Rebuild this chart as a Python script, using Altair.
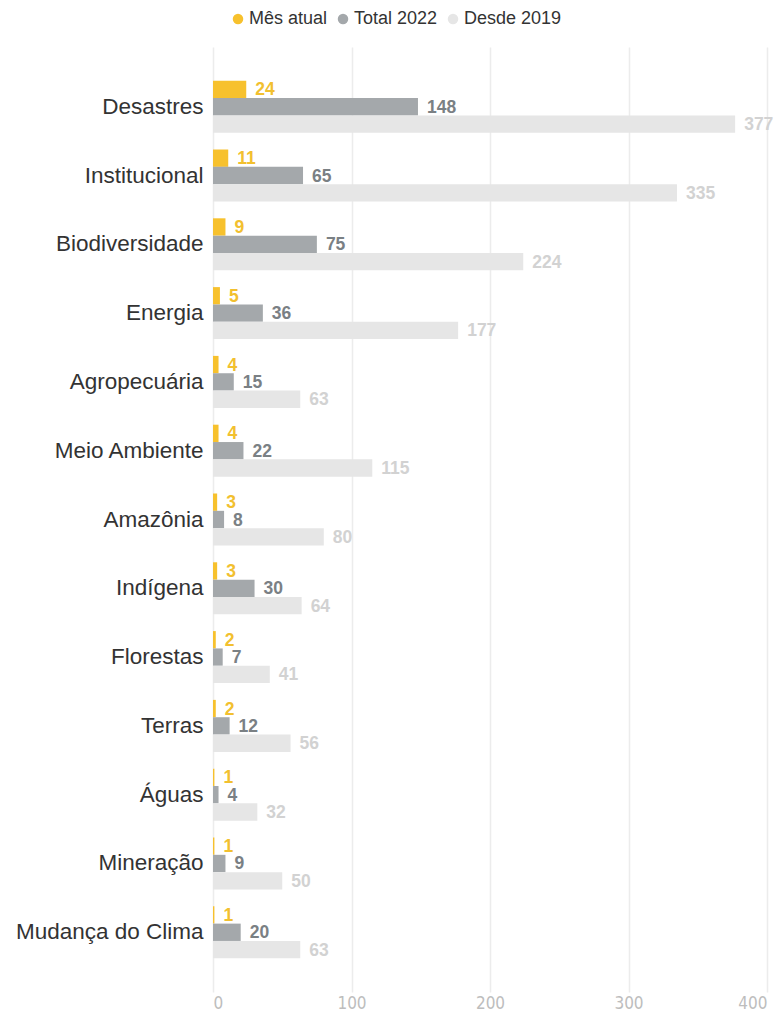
import altair as alt
import pandas as pd

categories = ["Desastres", "Institucional", "Biodiversidade", "Energia", "Agropecuária",
              "Meio Ambiente", "Amazônia", "Indígena", "Florestas", "Terras", "Águas",
              "Mineração", "Mudança do Clima"]
mes_atual = [24, 11, 9, 5, 4, 4, 3, 3, 2, 2, 1, 1, 1]
total_2022 = [148, 65, 75, 36, 15, 22, 8, 30, 7, 12, 4, 9, 20]
desde_2019 = [377, 335, 224, 177, 63, 115, 80, 64, 41, 56, 32, 50, 63]
series = ["Mês atual", "Total 2022", "Desde 2019"]
x_ticks = [0, 100, 200, 300, 400]

bar_colors = ["#F7C12D", "#A4A8AB", "#E6E6E6"]
text_colors = ["#F2C02F", "#7A8084", "#D2D2D2"]

rows = []
for i, c in enumerate(categories):
    for s, vals in zip(series, [mes_atual, total_2022, desde_2019]):
        rows.append({"categoria": c, "serie": s, "valor": vals[i]})
df = pd.DataFrame(rows)

font = "Liberation Sans"
narrow = "Liberation Sans Narrow, DejaVu Sans Condensed, Liberation Sans"

y_enc = alt.Y("categoria:N", sort=categories, title=None,
              scale=alt.Scale(paddingInner=0.244, paddingOuter=0.49),
              axis=alt.Axis(labelFontSize=22.5, labelColor="#333333", labelFont=font,
                            labelPadding=10, ticks=False, domain=False, labelLimit=400))
x_enc = alt.X("valor:Q", title=None,
              scale=alt.Scale(domain=[0, 400], nice=False),
              axis=alt.Axis(values=x_ticks, grid=True, gridColor="#ECECEC", gridWidth=1.5,
                            domain=False, ticks=False, labelFontSize=17, labelColor="#BDBDBD",
                            labelFont=narrow, labelFontWeight=300, labelPadding=3))
yoff = alt.YOffset("serie:N", sort=series, scale=alt.Scale(paddingInner=0, paddingOuter=0))

bars = alt.Chart(df).mark_bar().encode(
    y=y_enc, x=x_enc, yOffset=yoff,
    color=alt.Color("serie:N", sort=series,
                    scale=alt.Scale(domain=series, range=bar_colors),
                    legend=alt.Legend(title=None, orient="none", direction="horizontal",
                                      legendX=16, legendY=-37, symbolType="circle",
                                      symbolSize=110, labelFontSize=18, labelColor="#333333",
                                      labelFont=font, columnPadding=6, symbolOffset=0,
                                      labelOffset=2)),
)

labels = alt.Chart(df).mark_text(align="left", baseline="middle", dx=9, dy=1, fontSize=17.5,
                                 fontWeight="bold", font=font).encode(
    y=y_enc, x=x_enc, yOffset=yoff,
    text=alt.Text("valor:Q"),
    color=alt.Color("serie:N", sort=series,
                    scale=alt.Scale(domain=series, range=text_colors), legend=None),
)

chart = alt.layer(bars, labels).resolve_scale(color="independent").properties(
    width=554, height=945,
    autosize=alt.AutoSizeParams(type="none"),
    padding={"left": 213, "top": 47, "right": 17, "bottom": 23},
).configure(background="white").configure_view(strokeWidth=0, stroke="transparent")

chart.save("out.html", embed_options={"renderer": "svg", "actions": False})
